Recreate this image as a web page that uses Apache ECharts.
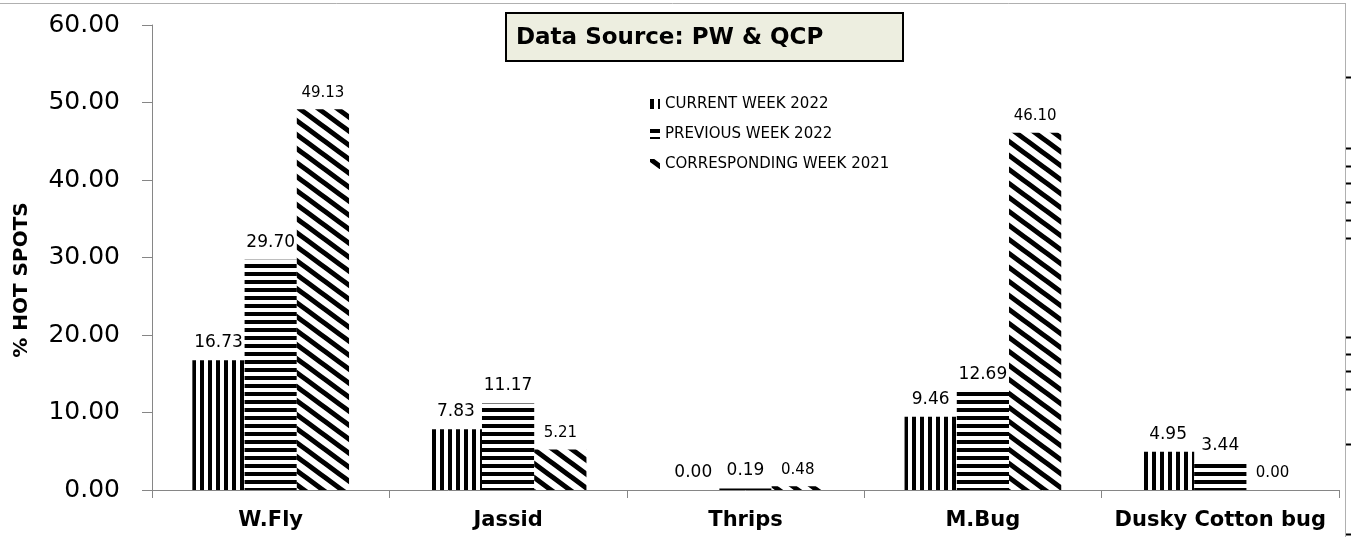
<!DOCTYPE html>
<html>
<head>
<meta charset="utf-8">
<script src="https://cdn.jsdelivr.net/npm/echarts@6/dist/echarts.min.js"></script>
<style>
html,body{margin:0;padding:0;background:#fff;}
#chart{width:1351px;height:537px;}
</style>
</head>
<body>
<div id="chart"></div>
<script>
var categories = ['W.Fly', 'Jassid', 'Thrips', 'M.Bug', 'Dusky Cotton bug'];
var seriesNames = ['CURRENT WEEK 2022', 'PREVIOUS WEEK 2022', 'CORRESPONDING WEEK 2021'];
var currentWeek = [16.73, 7.83, 0.00, 9.46, 4.95];
var previousWeek = [29.70, 11.17, 0.19, 12.69, 3.44];
var correspondingWeek = [49.13, 5.21, 0.48, 46.10, 0.00];
var yTicks = [0, 10, 20, 30, 40, 50, 60];
var sideTicksY = [77, 148, 166, 183, 202, 220, 238, 337, 354, 371, 389, 444, 534];

function makePattern(kind) {
  var c = document.createElement('canvas');
  var ctx;
  if (kind === 'v') {
    c.width = 8; c.height = 8; ctx = c.getContext('2d');
    ctx.fillStyle = '#fff'; ctx.fillRect(0, 0, 8, 8);
    ctx.fillStyle = '#000'; ctx.fillRect(0, 0, 4, 8);
  } else if (kind === 'h') {
    c.width = 8; c.height = 8; ctx = c.getContext('2d');
    ctx.fillStyle = '#fff'; ctx.fillRect(0, 0, 8, 8);
    ctx.fillStyle = '#000'; ctx.fillRect(0, 0, 8, 4);
  } else {
    var w = 19, h = 14;
    c.width = w; c.height = h; ctx = c.getContext('2d');
    ctx.fillStyle = '#fff'; ctx.fillRect(0, 0, w, h);
    ctx.strokeStyle = '#000'; ctx.lineWidth = 5;
    ctx.beginPath();
    [-w, 0, w].forEach(function (o) {
      ctx.moveTo(o - w, -h);
      ctx.lineTo(o + 2 * w, 2 * h);
    });
    ctx.stroke();
  }
  return { image: c, repeat: 'repeat' };
}

var patterns = [makePattern('v'), makePattern('h'), makePattern('d')];
var values = [currentWeek, previousWeek, correspondingWeek];
var labelSizes = [17, 17, 15];

var FONT = '"DejaVu Sans", Verdana, sans-serif';

var chart = echarts.init(document.getElementById('chart'), null, { renderer: 'canvas' });

var series = values.map(function (arr, i) {
  return {
    name: seriesNames[i],
    type: 'bar',
    data: arr,
    barGap: '0%',
    barCategoryGap: '34%',
    itemStyle: { color: patterns[i] },
    label: {
      show: true,
      position: 'top',
      distance: 9,
      color: '#000',
      fontFamily: FONT,
      fontSize: labelSizes[i],
      formatter: function (p) { return p.value.toFixed(2); }
    },
    emphasis: { disabled: true }
  };
});

var graphics = [
  { type: 'line', shape: { x1: 0, y1: 3.5, x2: 1345, y2: 3.5 }, style: { stroke: '#b0b0b0', lineWidth: 1 }, silent: true },
  { type: 'line', shape: { x1: 1345.5, y1: 3, x2: 1345.5, y2: 537 }, style: { stroke: '#b0b0b0', lineWidth: 1 }, silent: true },
  {
    type: 'group', left: 505, top: 12, silent: true,
    children: [
      { type: 'rect', shape: { x: 0, y: 0, width: 397, height: 48 }, style: { fill: '#EDEEE0', stroke: '#000', lineWidth: 2 } },
      { type: 'text', x: 10, y: 25, style: { text: 'Data Source: PW & QCP', font: 'bold 23px ' + FONT, fill: '#000', verticalAlign: 'middle', align: 'left' } }
    ]
  },
  {
    type: 'text', x: 22, y: 280, rotation: Math.PI / 2, silent: true,
    style: { text: '% HOT SPOTS', font: 'bold 20px ' + FONT, fill: '#000', align: 'center', verticalAlign: 'middle' }
  }
];
sideTicksY.forEach(function (y) {
  graphics.push({ type: 'line', shape: { x1: 1346, y1: y + 0.5, x2: 1351, y2: y + 0.5 }, style: { stroke: '#000', lineWidth: 2 }, silent: true });
});

var option = {
  animation: false,
  backgroundColor: '#fff',
  textStyle: { fontFamily: FONT },
  grid: { left: 152, right: 12, top: 25, bottom: 47, containLabel: false },
  legend: {
    orient: 'vertical',
    left: 645,
    top: 90,
    itemWidth: 10,
    itemHeight: 10,
    itemGap: 12,
    icon: 'rect',
    data: seriesNames,
    textStyle: { fontFamily: FONT, fontSize: 15, color: '#000', lineHeight: 18, padding: [0, 0, 0, 0] }
  },
  xAxis: {
    type: 'category',
    data: categories,
    axisLine: { lineStyle: { color: '#868686', width: 1 } },
    axisTick: { show: true, length: 8, lineStyle: { color: '#868686' } },
    axisLabel: { color: '#000', fontFamily: FONT, fontWeight: 'bold', fontSize: 21, margin: 20, interval: 0 }
  },
  yAxis: {
    type: 'value',
    min: yTicks[0],
    max: yTicks[yTicks.length - 1],
    interval: yTicks[1] - yTicks[0],
    axisLine: { show: true, lineStyle: { color: '#868686', width: 1 } },
    axisTick: { show: true, length: 10, lineStyle: { color: '#868686' } },
    splitLine: { show: false },
    axisLabel: { color: '#000', fontFamily: FONT, fontSize: 25, margin: 32, formatter: function (v) { return v.toFixed(2); } }
  },
  series: series,
  graphic: graphics
};

chart.setOption(option);
</script>
</body>
</html>
